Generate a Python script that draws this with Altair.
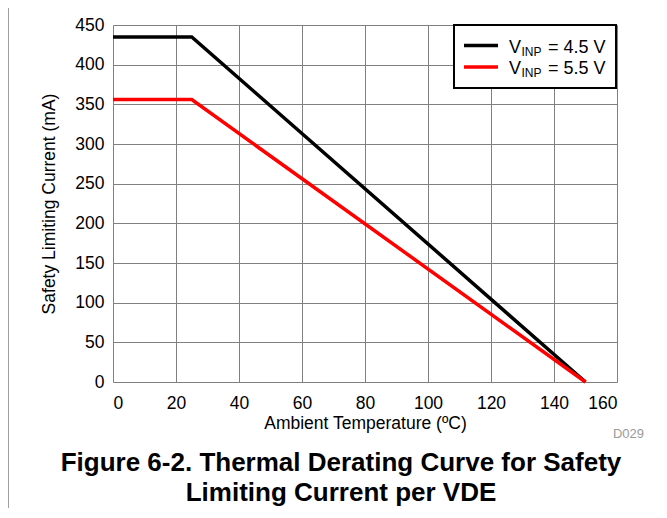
import altair as alt
import pandas as pd

# ---- data ----
temps = [0, 25, 150]
current_45 = [435, 435, 0]
current_55 = [356, 356, 0]
series = ["4.5", "5.5"]
series_colors = ["#000000", "#ff0000"]
x_ticks = [0, 20, 40, 60, 80, 100, 120, 140, 160]
y_ticks = [0, 50, 100, 150, 200, 250, 300, 350, 400, 450]
legend_values = ["4.5 V", "5.5 V"]
caption = ["Figure 6-2. Thermal Derating Curve for Safety", "Limiting Current per VDE"]
code_label = "D029"

FONT = "Liberation Sans"
W, H = 504, 357

rows = []
for s, vals in zip(series, [current_45, current_55]):
    for t, v in zip(temps, vals):
        rows.append({"temp": t, "current": v, "series": s})
df = pd.DataFrame(rows)

one = pd.DataFrame({"a": [0]})

lines = alt.Chart(df).mark_line(strokeWidth=3.5, clip=False).encode(
    x=alt.X("temp:Q",
            scale=alt.Scale(domain=[0, 160], nice=False, zero=False),
            axis=alt.Axis(values=x_ticks, title="Ambient Temperature (ºC)",
                          labelFont=FONT, labelFontSize=17.5, labelColor="#000",
                          labelPadding=12, titleFont=FONT, titleFontSize=17.5,
                          titleFontWeight="normal", titleColor="#000",
                          titlePadding=3, grid=True, gridColor="#808080",
                          gridWidth=1, domain=False, ticks=False)),
    y=alt.Y("current:Q",
            scale=alt.Scale(domain=[0, 450], nice=False),
            axis=alt.Axis(values=y_ticks, title="Safety Limiting Current (mA)",
                          labelFont=FONT, labelFontSize=17.5, labelColor="#000",
                          labelPadding=9, titleFont=FONT, titleFontSize=17.5,
                          titleFontWeight="normal", titleColor="#000",
                          titlePadding=16, grid=True, gridColor="#808080",
                          gridWidth=1, domain=False, ticks=False)),
    color=alt.Color("series:N", scale=alt.Scale(domain=series, range=series_colors),
                    legend=None),
)

# legend box
leg_box = alt.Chart(one).mark_rect(fill="white", stroke="#000", strokeWidth=2).encode(
    x=alt.value(341), x2=alt.value(503), y=alt.value(0), y2=alt.value(63))

legend_layers = [leg_box]
for i, (col, val) in enumerate(zip(series_colors, legend_values)):
    yl = 20.5 + i * 21.4
    base_y = 28 + i * 21.4
    legend_layers.append(alt.Chart(one).mark_rule(color=col, strokeWidth=3.5).encode(
        x=alt.value(351), x2=alt.value(385), y=alt.value(yl)))
    legend_layers.append(alt.Chart(one).mark_text(
        text="V", font=FONT, fontSize=18, align="left", baseline="alphabetic", color="#000"
    ).encode(x=alt.value(396), y=alt.value(base_y)))
    legend_layers.append(alt.Chart(one).mark_text(
        text="INP", font=FONT, fontSize=12, align="left", baseline="alphabetic", color="#000"
    ).encode(x=alt.value(408.5), y=alt.value(base_y + 3)))
    legend_layers.append(alt.Chart(one).mark_text(
        text="= " + val, font=FONT, fontSize=18, align="left", baseline="alphabetic", color="#000"
    ).encode(x=alt.value(435), y=alt.value(base_y)))

code_txt = alt.Chart(one).mark_text(
    text=code_label, font=FONT, fontSize=13, align="right", baseline="alphabetic",
    color="#9a9a9a").encode(x=alt.value(531), y=alt.value(413))

cap_layers = []
for i, line in enumerate(caption):
    cap_layers.append(alt.Chart(one).mark_text(
        text=line, font=FONT, fontSize=26, fontWeight="bold", align="center",
        baseline="alphabetic", color="#000").encode(
        x=alt.value(228), y=alt.value(446 + i * 30)))

frame_top = alt.Chart(one).mark_rule(color="#808080", strokeWidth=1.5).encode(
    x=alt.value(-105), x2=alt.value(560), y=alt.value(-19))
frame_left = alt.Chart(one).mark_rule(color="#808080", strokeWidth=1.5).encode(
    x=alt.value(-105), y=alt.value(-19), y2=alt.value(500))

chart = alt.layer(
    frame_top, frame_left, lines, *legend_layers, code_txt, *cap_layers
).properties(
    width=W, height=H,
    autosize=alt.AutoSizeParams(type="none"),
    padding={"left": 105, "top": 17, "right": 40, "bottom": 126},
).configure_view(
    stroke="#000", strokeWidth=3
).configure(background="white")

chart.save("out.html", embed_options={"renderer": "svg", "actions": False})
